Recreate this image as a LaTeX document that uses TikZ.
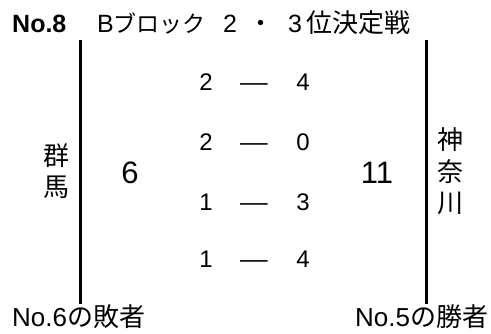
\documentclass[tikz,border=0pt]{standalone}
\usepackage{fontspec}
\setmainfont{Liberation Sans}
\newfontfamily\jp{Noto Sans CJK JP}
\begin{document}
\begin{tikzpicture}[x=1pt,y=-1pt,
  ttl/.style={inner sep=0pt,anchor=base west,font=\fontsize{25}{25}\selectfont},
  score/.style={inner sep=0pt,anchor=base,font=\fontsize{24}{24}\selectfont},
  dsh/.style={inner sep=0pt,anchor=base,font=\fontsize{24}{24}\selectfont},
  big/.style={inner sep=0pt,font=\fontsize{31}{31}\selectfont},
  pref/.style={inner sep=0pt,font=\jp\fontsize{26}{26}\selectfont},
  bar/.style={line width=3pt}]
\useasboundingbox (0,0) rectangle (491,334);
% title
\node[ttl,font=\bfseries\fontsize{25}{25}\selectfont] (no8) at (12,33) {No.8};
\node[ttl] (blk) at (97,33) {B{\jp\fontsize{23}{23}\selectfont ブロック}};
\node[inner sep=0pt,font=\fontsize{25}{25}\selectfont,anchor=base] (t2) at (230,33) {2};
\node[inner sep=0pt,font=\jp\fontsize{25}{25}\selectfont,anchor=base] (tdot) at (261,33) {・};
\node[ttl] (t3) at (288,33) {3};
\node[ttl,font=\jp\fontsize{26}{26}\selectfont] (t3b) at (306,33) {位決定戦};
% bracket lines
\coordinate (lt) at (80,40);
\coordinate (lb) at (80,304);
\coordinate (rt) at (426,40);
\coordinate (rb) at (426,304);
\draw[bar] (lt) -- (lb);
\draw[bar] (rt) -- (rb);
% bottom labels
\node[ttl,font=\fontsize{26}{26}\selectfont] (los) at (12,327) {No.6{\jp の敗者}};
\node[ttl,font=\fontsize{26}{26}\selectfont] (win) at (355,327) {No.5{\jp の勝者}};
% prefectures
\node[pref] (gun) at (56,156) {群};
\node[pref] (ma) at (56,187) {馬};
\node[pref] (kami) at (450,140) {神};
\node[pref] (na) at (450,172) {奈};
\node[pref] (kawa) at (450,203) {川};
% totals
\node[big] (tl) at (130,173) {6};
\node[big] (tr) at (377,173) {11};
% inning scores
\foreach \a/\b/\y/\n in {2/4/91/1,2/0/151/2,1/3/211/3,1/4/268/4}{
  \node[score] (sa\n) at (206,\y) {\a};
  \node[dsh] (sd\n) at (254,\y) {\scalebox{1.15}[1]{—}};
  \node[score] (sb\n) at (303,\y) {\b};
}
\end{tikzpicture}
\end{document}
